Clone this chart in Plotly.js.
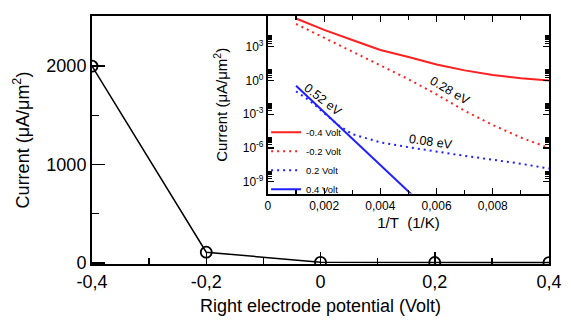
<!DOCTYPE html>
<html>
<head>
<meta charset="utf-8">
<script src="https://cdn.plot.ly/plotly-3.0.1.min.js"></script>
<style>html,body{margin:0;padding:0;background:#fff;}#chart{width:573px;height:326px;}</style>
</head>
<body>
<div id="chart"></div>
<script>
// Main panel: current vs right electrode potential
const potential = [-0.4, -0.2, 0, 0.2, 0.4];
const currentMain = [2000, 108, 5, 3, 2];
const mainXTickVals = [-0.4, -0.2, 0, 0.2, 0.4];
const mainXTickText = ['-0,4', '-0,2', '0', '0,2', '0,4'];
const mainYTickVals = [0, 1000, 2000];

// Inset: current vs 1/T (log scale)
const invT = [0.001, 0.002, 0.003, 0.004, 0.005, 0.006, 0.007, 0.008, 0.009, 0.010];
const curNeg04 = [3.2e5, 3.1e4, 4.0e3, 5.2e2, 1.2e2, 26, 7.9, 3.0, 1.55, 1.0];
const curNeg02 = [1.05e5, 6.2e3, 3.7e2, 21, 1.3, 5.8e-2, 2.0e-3, 1.1e-4, 8.5e-6, 1.0e-6];
const invTPos02 = [0.001, 0.0015, 0.002, 0.0025, 0.003, 0.0035, 0.004, 0.005, 0.006, 0.007, 0.008, 0.009, 0.010];
const curPos02 = [0.107, 1.5e-2, 1.26e-3, 1.07e-4, 1.7e-5, 7.4e-6, 3.2e-6, 1.17e-6, 4.7e-7, 2.0e-7, 9.1e-8, 4.0e-8, 1.5e-8];
const invTPos04 = [0.001, 0.002, 0.003, 0.004, 0.005, 0.0052];
const curPos04 = [0.34, 1.5e-3, 6.8e-6, 3.0e-8, 1.35e-10, 4.6e-11];
const seriesNames = ['-0.4 Volt', '-0.2 Volt', '0.2 Volt', '0.4 Volt'];
const insetXTickVals = [0, 0.002, 0.004, 0.006, 0.008];
const insetYTickVals = [1e3, 1, 1e-3, 1e-6, 1e-9];
const insetYTickText = ['10<sup>3</sup>', '10<sup>0</sup>', '10<sup>-3</sup>', '10<sup>-6</sup>', '10<sup>-9</sup>'];
const insetYMinor = [];
insetYTickVals.forEach(v => { for (let k = 2; k <= 9; k++) insetYMinor.push(v * k); });

// Activation-energy labels
const eaLabels = ['0.52 eV', '0.28 eV', '0.08 eV'];
const eaX = [0.00196, 0.00649, 0.00581];
const eaLogY = [-1.75, -0.94, -5.43];
const eaAngle = [38, 30, 8];

const FONT = 'Liberation Sans, Arial, Helvetica, sans-serif';
const RED = '#ff2020';
const BLUE = '#2020ff';

const traces = [
  {x: potential, y: currentMain, xaxis: 'x', yaxis: 'y', mode: 'lines+markers', showlegend: false,
   line: {color: '#000', width: 1.5},
   marker: {symbol: 'circle-open', size: 11, color: '#000', line: {width: 1.8, color: '#000'}}},
  {x: invT, y: curNeg04, xaxis: 'x2', yaxis: 'y2', mode: 'lines', name: seriesNames[0],
   line: {color: RED, width: 2}},
  {x: invT, y: curNeg02, xaxis: 'x2', yaxis: 'y2', mode: 'lines', name: seriesNames[1],
   line: {color: RED, width: 2, dash: '2px,4px'}},
  {x: invTPos02, y: curPos02, xaxis: 'x2', yaxis: 'y2', mode: 'lines', name: seriesNames[2],
   line: {color: BLUE, width: 2, dash: '2px,4px'}},
  {x: invTPos04, y: curPos04, xaxis: 'x2', yaxis: 'y2', mode: 'lines', name: seriesNames[3],
   line: {color: BLUE, width: 2}}
];

const annotations = eaLabels.map((t, i) => ({
  xref: 'x2', yref: 'y2', x: eaX[i], y: eaLogY[i], text: t, textangle: eaAngle[i],
  showarrow: false, font: {family: FONT, size: 12.5, color: '#000'}
}));

const layout = {
  width: 573, height: 326,
  margin: {l: 92, r: 24, t: 16, b: 62, pad: 0},
  paper_bgcolor: '#fff', plot_bgcolor: '#fff',
  separators: ',.',
  font: {family: FONT, color: '#000'},
  showlegend: true,
  legend: {x: 0.381, y: 0.59, xanchor: 'left', yanchor: 'top', bgcolor: 'rgba(0,0,0,0)',
           font: {family: FONT, size: 9.5, color: '#000'}, itemwidth: 30, tracegroupgap: 0},
  xaxis: {domain: [0, 1], range: [-0.4, 0.4], showgrid: false, zeroline: false,
          showline: true, linecolor: '#000', linewidth: 2, mirror: true,
          ticks: 'inside', ticklen: 12, tickwidth: 1.5, tickcolor: '#000',
          tickvals: mainXTickVals, ticktext: mainXTickText,
          minor: {ticks: 'inside', ticklen: 6, tickwidth: 1.5, tickcolor: '#000', dtick: 0.1},
          tickfont: {family: FONT, size: 18},
          title: {text: 'Right electrode potential (Volt)', font: {family: FONT, size: 18}, standoff: 9}},
  yaxis: {domain: [0, 1], range: [-12, 2510], showgrid: false, zeroline: false,
          showline: true, linecolor: '#000', linewidth: 2, mirror: true,
          ticks: 'inside', ticklen: 13, tickwidth: 1.5, tickcolor: '#000',
          tickvals: mainYTickVals,
          minor: {ticks: 'inside', ticklen: 7, tickwidth: 1.5, tickcolor: '#000', dtick: 500},
          tickfont: {family: FONT, size: 18},
          title: {text: 'Current (μA/μm<sup>2</sup>)', font: {family: FONT, size: 18}, standoff: 12}},
  xaxis2: {domain: [0.385, 1], range: [0, 0.01], anchor: 'y2', showgrid: false, zeroline: false,
           showline: true, linecolor: '#000', linewidth: 2, mirror: 'ticks',
           ticks: 'inside', ticklen: 6, tickwidth: 1.2, tickcolor: '#000',
           tickvals: insetXTickVals,
           minor: {ticks: 'inside', ticklen: 4, tickwidth: 1.2, tickcolor: '#000', dtick: 0.001},
           tickfont: {family: FONT, size: 12},
           title: {text: '1/T\u00a0\u00a0(1/K)', font: {family: FONT, size: 15}, standoff: 6}},
  yaxis2: {domain: [0.284, 1], type: 'log', range: [-10.05, 5.73], anchor: 'x2', showgrid: false, zeroline: false,
           showline: true, linecolor: '#000', linewidth: 2, mirror: 'ticks',
           ticks: 'inside', ticklen: 6, tickwidth: 1.2, tickcolor: '#000',
           tickvals: insetYTickVals, ticktext: insetYTickText,
           minor: {ticks: 'inside', ticklen: 4, tickwidth: 1, tickcolor: '#000', tickmode: 'array', tickvals: insetYMinor},
           tickfont: {family: FONT, size: 12},
           title: {text: 'Current (μA/μm<sup>2</sup>)', font: {family: FONT, size: 15}, standoff: 11}},
  annotations: annotations
};

Plotly.newPlot('chart', traces, layout, {staticPlot: true, displayModeBar: false});
</script>
</body>
</html>
